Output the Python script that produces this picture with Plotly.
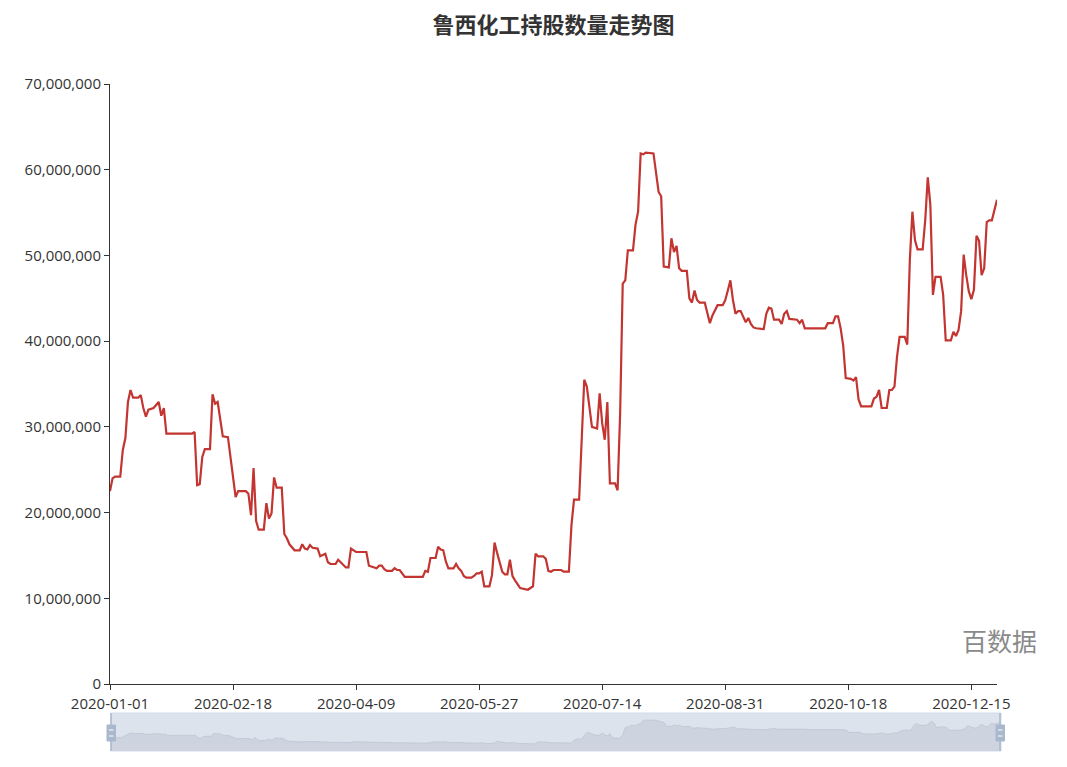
import pandas as pd
import plotly.graph_objects as go

# ---------------- data ----------------
TITLE = "鲁西化工持股数量走势图"
WATERMARK = "百数据"

# category axis: calendar days of 2020 present in the source (a few days absent)
START_DATE = "2020-01-01"
END_DATE = "2020-12-25"
MISSING_DATES = ["2020-04-04", "2020-04-05", "2020-04-06",
                 "2020-11-20", "2020-11-21", "2020-11-22", "2020-11-23", "2020-11-24",
                 "2020-11-25", "2020-11-26", "2020-11-27", "2020-11-28", "2020-11-29"]

# turning points of the holding series (month-day, shares in millions)
key_days = [
    "01-01", "01-02", "01-03", "01-05", "01-06", "01-07", "01-08", "01-09", "01-10", "01-12",
    "01-13", "01-14", "01-15", "01-16", "01-18", "01-20", "01-21", "01-22", "01-23", "02-02",
    "02-03", "02-04", "02-05", "02-06", "02-07", "02-09", "02-10", "02-11", "02-12", "02-14",
    "02-16", "02-17", "02-18", "02-19", "02-20", "02-23", "02-24", "02-25", "02-26", "02-27",
    "02-28", "03-01", "03-02", "03-03", "03-04", "03-05", "03-06", "03-08", "03-09", "03-10",
    "03-11", "03-12", "03-13", "03-15", "03-16", "03-17", "03-18", "03-19", "03-20", "03-22",
    "03-23", "03-25", "03-26", "03-27", "03-29", "03-30", "03-31", "04-01", "04-02", "04-03",
    "04-07", "04-09", "04-13", "04-14", "04-16", "04-17", "04-18", "04-19", "04-20", "04-21",
    "04-23", "04-24", "04-25", "04-26", "04-28", "05-05", "05-06", "05-07", "05-08", "05-10",
    "05-11", "05-12", "05-13", "05-14", "05-15", "05-17", "05-18", "05-19", "05-20", "05-21",
    "05-22", "05-24", "05-25", "05-26", "05-27", "05-28", "05-29", "05-31", "06-01", "06-02",
    "06-03", "06-04", "06-05", "06-06", "06-07", "06-08", "06-09", "06-10", "06-12", "06-15",
    "06-17", "06-18", "06-19", "06-21", "06-22", "06-23", "06-24", "06-25", "06-28", "06-29",
    "07-01", "07-02", "07-03", "07-05", "07-06", "07-07", "07-08", "07-09", "07-10", "07-12",
    "07-13", "07-14", "07-15", "07-16", "07-17", "07-19", "07-20", "07-21", "07-22", "07-23",
    "07-24", "07-26", "07-27", "07-28", "07-29", "07-30", "07-31", "08-03", "08-04", "08-05",
    "08-06", "08-07", "08-09", "08-10", "08-11", "08-12", "08-13", "08-14", "08-16", "08-17",
    "08-18", "08-19", "08-20", "08-21", "08-23", "08-25", "08-26", "08-27", "08-28", "08-30",
    "08-31", "09-01", "09-02", "09-03", "09-04", "09-05", "09-06", "09-08", "09-09", "09-10",
    "09-11", "09-12", "09-15", "09-16", "09-17", "09-18", "09-19", "09-21", "09-22", "09-23",
    "09-24", "09-25", "09-28", "09-29", "09-30", "10-01", "10-09", "10-10", "10-12", "10-13",
    "10-14", "10-15", "10-16", "10-17", "10-19", "10-20", "10-21", "10-22", "10-23", "10-27",
    "10-28", "10-29", "10-30", "10-31", "11-02", "11-03", "11-04", "11-05", "11-06", "11-07",
    "11-09", "11-10", "11-11", "11-12", "11-13", "11-14", "11-16", "11-17", "11-18", "11-19",
    "11-30", "12-01", "12-03", "12-04", "12-05", "12-07", "12-08", "12-09", "12-10", "12-11",
    "12-12", "12-13", "12-14", "12-15", "12-16", "12-17", "12-18", "12-19", "12-20", "12-21",
    "12-22", "12-23", "12-25",
]
holding_million = [
    22.5, 24.0, 24.2, 24.2, 27.3, 28.7, 32.9, 34.3, 33.4, 33.4,
    33.7, 32.2, 31.2, 32.0, 32.2, 32.9, 31.3, 32.2, 29.2, 29.2,
    29.4, 23.2, 23.3, 26.5, 27.4, 27.4, 33.8, 32.7, 32.9, 28.9,
    28.8, 26.3, 24.4, 21.8, 22.5, 22.5, 22.2, 19.7, 25.2, 19.0,
    18.0, 18.0, 21.1, 19.3, 19.9, 24.1, 22.9, 22.9, 17.5, 17.0,
    16.3, 16.0, 15.6, 15.6, 16.3, 15.8, 15.7, 16.2, 15.9, 15.8,
    14.9, 15.2, 14.2, 14.0, 14.0, 14.5, 14.2, 13.8, 13.6, 13.6,
    15.8, 15.4, 15.4, 13.8, 13.6, 13.5, 13.8, 13.8, 13.4, 13.2,
    13.2, 13.5, 13.3, 13.3, 12.5, 12.5, 13.2, 13.1, 14.7, 14.7,
    16.0, 15.7, 15.6, 14.3, 13.5, 13.5, 14.0, 13.5, 13.2, 12.6,
    12.4, 12.4, 12.6, 12.9, 12.9, 13.1, 11.4, 11.4, 12.7, 16.5,
    15.3, 14.2, 13.1, 12.8, 12.8, 14.5, 12.6, 12.1, 11.2, 11.0,
    11.4, 15.2, 14.9, 14.9, 14.6, 13.2, 13.1, 13.3, 13.3, 13.1,
    13.1, 18.5, 21.5, 21.5, 28.5, 35.5, 34.7, 32.3, 30.0, 29.8,
    33.9, 30.4, 28.5, 32.9, 23.4, 23.4, 22.6, 31.6, 46.7, 47.1,
    50.6, 50.6, 53.6, 55.1, 61.9, 61.8, 62.0, 61.9, 59.6, 57.4,
    56.9, 48.7, 48.6, 52.0, 50.4, 51.1, 48.5, 48.2, 48.2, 45.0,
    44.5, 45.9, 44.8, 44.5, 44.5, 42.1, 43.0, 43.7, 44.2, 44.2,
    44.8, 45.9, 47.1, 44.8, 43.2, 43.5, 43.5, 42.2, 42.7, 42.0,
    41.6, 41.5, 41.4, 43.2, 43.9, 43.8, 42.5, 42.5, 42.0, 43.2,
    43.5, 42.6, 42.5, 42.1, 42.5, 41.5, 41.5, 42.1, 42.1, 42.9,
    42.9, 41.5, 39.5, 35.7, 35.6, 35.4, 35.8, 33.2, 32.4, 32.4,
    33.3, 33.5, 34.3, 32.2, 32.2, 34.3, 34.3, 34.7, 38.2, 40.5,
    40.5, 39.6, 49.5, 55.1, 51.8, 50.7, 50.7, 54.1, 59.1, 55.9,
    45.4, 47.5, 47.5, 45.4, 40.1, 40.1, 41.1, 40.6, 41.3, 43.5,
    50.1, 47.7, 45.8, 44.9, 46.0, 52.3, 51.7, 47.7, 48.5, 53.9,
    54.1, 54.1, 56.5,
]

Y_MAX = 70_000_000
Y_STEP = 10_000_000
TICK_EVERY = 48  # one axis label every 48 categories

# ---------------- derived ----------------
all_dates = [d.strftime("%Y-%m-%d") for d in pd.date_range(START_DATE, END_DATE)
             if d.strftime("%Y-%m-%d") not in MISSING_DATES]
x_dates = ["2020-" + d for d in key_days]
y_vals = [v * 1_000_000 for v in holding_million]
tick_dates = all_dates[::TICK_EVERY]
n_cat = len(all_dates)

# echarts-style data shadow extent (data extent padded by 30%)
lo, hi = min(y_vals), max(y_vals)
pad = (hi - lo) * 0.3
shadow_range = [lo - pad, hi + pad]

# ---------------- layout geometry (pixels) ----------------
W, H = 1067, 767
ML, MR, MT, MB = 110, 66, 84, 16
PW, PH = W - ML - MR, H - MT - MB
def px(xp):
    return (xp - ML) / PW
def py(yp):
    return (H - MB - yp) / PH

PLOT_RIGHT = 997
PLOT_BOTTOM = 684
SL_LEFT, SL_RIGHT, SL_TOP, SL_BOTTOM = 111, 1001, 713, 751

TXT = "#333333"
FONT = "Open Sans, Noto Sans CJK SC, sans-serif"
TICK_SIZE = 15

fig = go.Figure()
fig.add_trace(go.Scatter(
    x=x_dates, y=y_vals, mode="lines", name="持股数量",
    line=dict(color="#c23531", width=2.2), xaxis="x", yaxis="y",
    hovertemplate="%{x}<br>%{y:,}<extra></extra>",
))
fig.add_trace(go.Scatter(
    x=x_dates, y=y_vals, mode="lines", showlegend=False, hoverinfo="skip",
    line=dict(color="#bcc5d3", width=0.8), fill="tozeroy", fillcolor="#cdd4df",
    xaxis="x2", yaxis="y2",
))

shapes = [
    dict(type="rect", xref="paper", yref="paper",
         x0=px(SL_LEFT), x1=px(SL_RIGHT), y0=py(SL_BOTTOM), y1=py(SL_TOP),
         fillcolor="#dde3ed", line=dict(color="#d2dbee", width=1), layer="below"),
    dict(type="rect", xref="x2 domain", yref="y2", x0=0, x1=1,
         y0=shadow_range[0], y1=0, fillcolor="#cdd4df", line=dict(width=0), layer="below"),
]
for cx in (SL_LEFT, SL_RIGHT - 1):
    shapes.append(dict(type="line", xref="paper", yref="paper",
                       x0=px(cx), x1=px(cx), y0=py(SL_BOTTOM), y1=py(SL_TOP),
                       line=dict(color="#a9b8cc", width=1.5)))
    shapes.append(dict(type="rect", xref="paper", yref="paper",
                       x0=px(cx - 4), x1=px(cx + 4.5), y0=py(741), y1=py(725),
                       fillcolor="#a9b8cc", line=dict(color="#a9b8cc", width=1)))
    for yy in (730, 736):
        shapes.append(dict(type="line", xref="paper", yref="paper",
                           x0=px(cx - 2), x1=px(cx + 2.5), y0=py(yy), y1=py(yy),
                           line=dict(color="#ffffff", width=1)))

fig.update_layout(
    width=W, height=H, autosize=False,
    margin=dict(l=ML, r=MR, t=MT, b=MB, autoexpand=False),
    paper_bgcolor="#ffffff", plot_bgcolor="rgba(0,0,0,0)",
    showlegend=False,
    title=dict(text=TITLE, xref="container", yref="container", automargin=False,
               x=553.5 / W, y=1 - 25 / H, xanchor="center", yanchor="middle",
               font=dict(family="Noto Sans CJK SC, sans-serif", size=22, color=TXT, weight="bold")),
    xaxis=dict(
        domain=[0, px(PLOT_RIGHT)], anchor="y", automargin=False,
        type="category", categoryorder="array", categoryarray=all_dates,
        range=[0, n_cat - 1], tickmode="array", tickvals=tick_dates, ticktext=tick_dates,
        ticks="outside", ticklen=5, tickcolor=TXT, showline=True, linecolor=TXT, linewidth=1,
        showgrid=False, zeroline=False, ticklabelstandoff=1,
        tickfont=dict(family=FONT, size=TICK_SIZE, color=TXT),
    ),
    yaxis=dict(
        domain=[py(PLOT_BOTTOM), 1], anchor="x", automargin=False,
        range=[0, Y_MAX], tickmode="linear", tick0=0, dtick=Y_STEP, tickformat=",d",
        ticks="outside", ticklen=5, tickcolor=TXT, showline=True, linecolor=TXT, linewidth=1,
        showgrid=False, zeroline=False,
        tickfont=dict(family=FONT, size=TICK_SIZE, color=TXT),
    ),
    xaxis2=dict(
        domain=[px(SL_LEFT), px(SL_RIGHT)], anchor="y2", automargin=False,
        type="category", categoryorder="array", categoryarray=all_dates,
        range=[0, n_cat - 1], visible=False, fixedrange=True,
    ),
    yaxis2=dict(
        domain=[py(SL_BOTTOM), py(SL_TOP)], anchor="x2", automargin=False,
        range=shadow_range, visible=False, fixedrange=True,
    ),
    shapes=shapes,
    annotations=[dict(
        text=WATERMARK, xref="paper", yref="paper", x=px(999), y=py(640),
        xanchor="center", yanchor="middle", showarrow=False,
        font=dict(family="Noto Sans CJK SC, sans-serif", size=25, color="#8a8a8a"),
    )],
)

fig.write_html("out.html",
               config={"displayModeBar": False, "responsive": False},
               post_script="document.body.style.margin='0';document.body.style.overflow='hidden';")
